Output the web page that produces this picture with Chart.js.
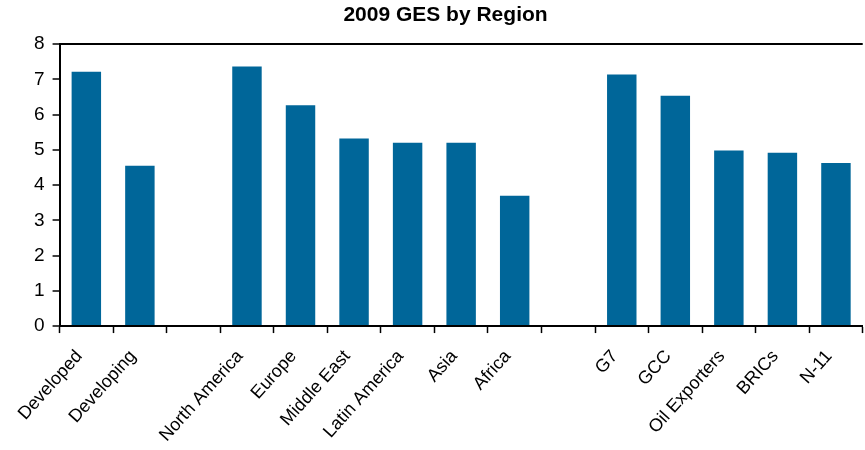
<!DOCTYPE html>
<html>
<head>
<meta charset="utf-8">
<script src="https://cdn.jsdelivr.net/npm/chart.js@4/dist/chart.umd.min.js"></script>
<style>
  html, body { margin: 0; padding: 0; background: #fff; }
  #wrap { width: 865px; height: 450px; }
</style>
</head>
<body>
<div id="wrap"><canvas id="chart"></canvas></div>
<script>
// categories, blank slots separate the three groups
const regions = [
    "Developed", "Developing", "",
    "North America", "Europe", "Middle East", "Latin America", "Asia", "Africa", "",
    "G7", "GCC", "Oil Exporters", "BRICs", "N-11",
];
const ges = [
    7.22, 4.55, null,
    7.37, 6.27, 5.32, 5.2, 5.2, 3.7, null,
    7.14, 6.54, 4.98, 4.92, 4.63,
];
const yTicks = [0, 1, 2, 3, 4, 5, 6, 7, 8];

const font = "'Liberation Sans', Arial, sans-serif";

new Chart(document.querySelector("#chart").getContext("2d"), {
    type: "bar",
    data: {
        labels: regions,
        datasets: [
            {
                label: "GES",
                data: ges,
                backgroundColor: "#006699",
                categoryPercentage: 1,
                barPercentage: 0.55,
            },
        ],
    },
    options: {
        responsive: true,
        maintainAspectRatio: false,
        animation: false,
        layout: { padding: { left: 26, right: 0, top: 0, bottom: -9 } },
        plugins: {
            legend: { display: false },
            tooltip: { enabled: false },
            title: {
                display: true,
                text: "2009 GES by Region",
                color: "#000",
                font: { family: font, size: 21, weight: "bold" },
                padding: { top: 3, bottom: 16 },
            },
        },
        scales: {
            x: {
                grid: {
                    drawOnChartArea: false,
                    tickLength: 7,
                    tickColor: "#000",
                    tickWidth: 1.5,
                },
                border: { color: "#000", width: 2 },
                ticks: {
                    color: "#000",
                    font: { family: font, size: 18 },
                    minRotation: 48,
                    maxRotation: 48,
                    autoSkip: false,
                    padding: 13,
                    labelOffset: -7,
                },
            },
            y: {
                min: 0,
                max: 8,
                afterBuildTicks: (axis) => { axis.ticks = yTicks.map((v) => ({ value: v })); },
                grid: {
                    color: (ctx) => (ctx.tick && ctx.tick.value === 8 ? "#000" : "rgba(0,0,0,0)"),
                    lineWidth: 2,
                    tickLength: 7,
                    tickColor: "#000",
                    tickWidth: 1.5,
                },
                border: { color: "#000", width: 2 },
                ticks: {
                    color: "#000",
                    font: { family: font, size: 19 },
                    padding: 8,
                },
            },
        },
    },
});
</script>
</body>
</html>
